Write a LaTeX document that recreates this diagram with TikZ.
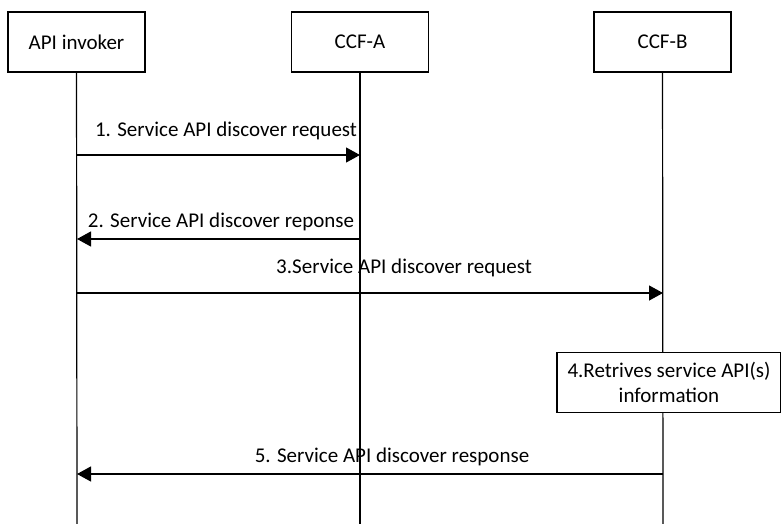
\documentclass[tikz,border=0pt]{standalone}
\usepackage{fontspec}
\setmainfont{Carlito}
\usetikzlibrary{arrows.meta}

\begin{document}
\begin{tikzpicture}[x=1pt,y=-1pt]
\tikzset{
  entity/.style={draw,line width=1.3pt,minimum width=137pt,minimum height=60pt,inner sep=0pt,font=\fontsize{21}{25}\selectfont},
  stepbox/.style={draw,fill=white,line width=1.3pt,minimum width=224pt,minimum height=60pt,inner sep=0pt,align=center,font=\fontsize{21}{25}\selectfont},
  lifeline/.style={line width=1.2pt},
  msg/.style={-{Triangle[length=14pt,width=15pt]},line width=1.2pt},
  msglabel/.style={inner sep=0pt,anchor=base,font=\fontsize{21}{25}\selectfont}
}
\useasboundingbox (0,0) rectangle (781,524);
\node[entity] (n_inv) at (76.5,42) {API invoker};
\node[entity] (n_ccfa) at (360,42) {CCF-A};
\node[entity] (n_ccfb) at (662.5,42) {CCF-B};
\coordinate (e_inv) at (77,524);
\coordinate (e_ccfa) at (360,524);
\coordinate (e_ccfb) at (663,524);
\draw[lifeline] (n_inv) -- (e_inv);
\draw[lifeline] (n_ccfa) -- (e_ccfa);
\draw[lifeline] (n_ccfb) -- (e_ccfb);
% message end points
\coordinate (inv1) at (77,155);
\coordinate (ccfa1) at (360,155);
\coordinate (inv2) at (77,239);
\coordinate (ccfa2) at (360,239);
\coordinate (inv3) at (77,293);
\coordinate (ccfb3) at (663,293);
\coordinate (inv5) at (77,474);
\coordinate (ccfb5) at (663,474);
\draw[msg] (inv1) -- (ccfa1);
\draw[msg] (ccfa2) -- (inv2);
\draw[msg] (inv3) -- (ccfb3);
\draw[msg] (ccfb5) -- (inv5);
\node[msglabel] (l_1) at (226,136) {1. Service API discover request};
\node[msglabel] (l_2) at (221,227) {2. Service API discover reponse};
\node[msglabel] (l_3) at (404,273) {3.Service API discover request};
\node[msglabel] (l_5) at (392,462) {5. Service API discover response};
\node[stepbox] (n_step4) at (669,382.5) {4.Retrives service API(s)\\information};
\end{tikzpicture}
\end{document}
